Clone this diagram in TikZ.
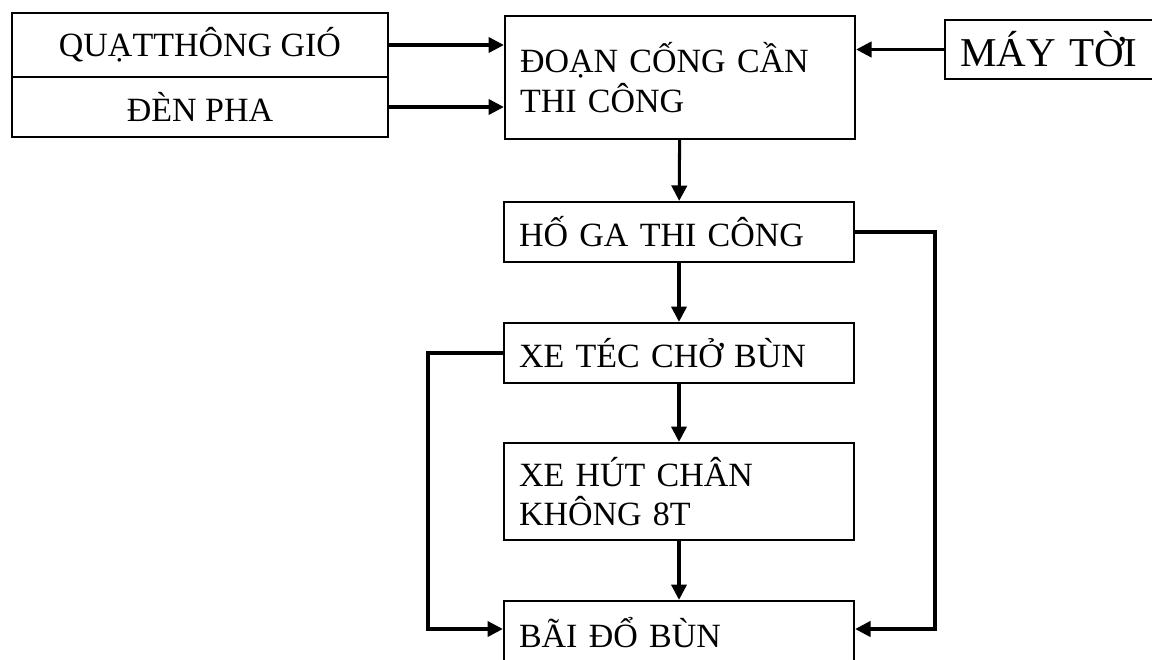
\documentclass[tikz,border=0pt]{standalone}
\usepackage{fontspec}
\setmainfont{Liberation Serif}
\usepackage{tikz}
\usetikzlibrary{arrows.meta}
\begin{document}
\begin{tikzpicture}
					\tikzstyle{box} = [draw=black,line width=2pt,inner xsep=0.45cm,align=left,font=\fontsize{29}{34}\selectfont]
					\tikzstyle{edge} = [line width=2.6pt,-{Triangle[length=0.46cm,width=0.46cm]}]
					\useasboundingbox (0,0) rectangle (34.56,-19.77);
					\node[box,align=center,minimum width=11.28cm,minimum height=1.92cm] (n1) at (6.0,-1.35) {QUẠTTHÔNG GIÓ};
					\node[box,align=center,minimum width=11.28cm,minimum height=1.8cm] (n2) at (6.0,-3.21) {ĐÈN PHA};
					\node[box,text width=9.6cm,minimum height=3.69cm] (n3) at (20.4,-2.325) {ĐOẠN CỐNG CẦN\\THI CÔNG};
					\node[box,text width=5.7cm,minimum height=1.77cm,font=\fontsize{35}{40}\selectfont] (n4) at (31.65,-1.485) {MÁY TỜI};
					\node[box,text width=9.6cm,minimum height=1.8cm] (n5) at (20.37,-6.96) {HỐ GA THI CÔNG};
					\node[box,text width=9.6cm,minimum height=1.8cm] (n6) at (20.37,-10.59) {XE TÉC CHỞ BÙN};
					\node[box,text width=9.6cm,minimum height=2.91cm] (n7) at (20.37,-14.745) {XE HÚT CHÂN\\KHÔNG 8T};
					\node[box,text width=9.6cm,minimum height=1.92cm] (n8) at (20.37,-18.99) {BÃI ĐỔ BÙN};
					\coordinate (r1) at (28.05,-18.87);
					\coordinate (l1) at (12.84,-18.87);
					\draw[edge] (n1.east)--(n1.east -| n3.west);
					\draw[edge] (n2.east)--(n2.east -| n3.west);
					\draw[edge] (n4.west)--(n4.west -| n3.east);
					\draw[edge] (n3)--(n5);
					\draw[edge] (n5)--(n6);
					\draw[edge] (n6)--(n7);
					\draw[edge] (n7)--(n8);
					\draw[edge] (n5.east) -| (r1) -- (r1 -| n8.east);
					\draw[edge] (n6.west) -| (l1) -- (l1 -| n8.west);
					\end{tikzpicture}
\end{document}
